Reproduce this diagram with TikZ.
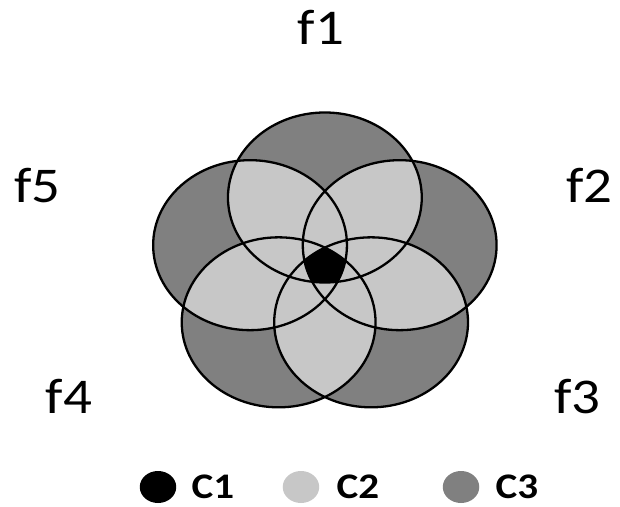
\documentclass[tikz,border=0pt]{standalone}
\usepackage{fontspec}
\setmainfont{Carlito}
\usepackage{tikz}
\definecolor{darkfill}{gray}{0.5}
\definecolor{lightfill}{gray}{0.78}

\begin{document}
\begin{tikzpicture}[xscale=1.14, x=1pt, y=1pt,
    flabel/.style={font=\fontsize{50}{60}\selectfont, anchor=base, inner sep=0pt, transform shape},
    clabel/.style={font=\fontsize{36}{43}\selectfont\bfseries, anchor=base, inner sep=0pt, transform shape},
    key/.style={circle, minimum size=32pt, inner sep=0pt, transform shape}]
                \useasboundingbox (0,0) rectangle (543.86,506);
                \coordinate (O) at (284.9,239.5);
                \foreach \i in {0,...,4}
                    \coordinate (P\i) at ([shift={(90-72*\i:69)}]O);
                % single cover
                \foreach \i in {0,...,4}
                    \fill[darkfill] (P\i) circle (85);
                % double cover
                \foreach \i/\j in {0/1,0/2,0/3,0/4,1/2,1/3,1/4,2/3,2/4,3/4} {
                    \begin{scope}
                        \clip (P\i) circle (85);
                        \fill[lightfill] (P\j) circle (85);
                    \end{scope}}
                % common core
                \begin{scope}
                    \clip (P0) circle (85);
                    \clip (P1) circle (85);
                    \clip (P2) circle (85);
                    \clip (P3) circle (85);
                    \fill[black] (P4) circle (85);
                \end{scope}
                \foreach \i in {0,...,4}
                    \draw[black, line width=2.3pt] (P\i) circle (85);
                \node[flabel] (f1) at (281.6,461) {f1};
                \node[flabel] (f2) at (517.1,303) {f2};
                \node[flabel] (f3) at (506.6,93) {f3};
                \node[flabel] (f4) at (60.5,93) {f4};
                \node[flabel] (f5) at (32.9,303) {f5};
                \node[key, fill=black] (k1) at (138.6,19) {};
                \node[key, fill=lightfill] (k2) at (264,19) {};
                \node[key, fill=darkfill] (k3) at (404.4,19) {};
                \node[clabel] (c1) at (186.8,8) {C1};
                \node[clabel] (c2) at (314,8) {C2};
                \node[clabel] (c3) at (453.5,8) {C3};
            \end{tikzpicture}
\end{document}
